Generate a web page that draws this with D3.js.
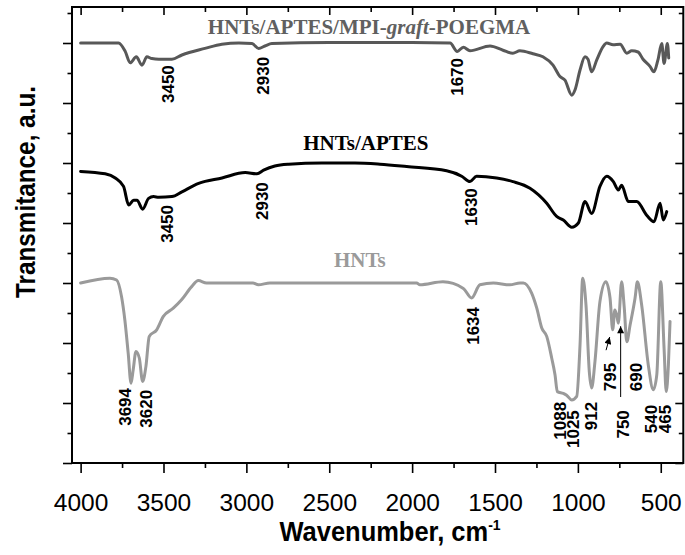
<!DOCTYPE html>
<meta charset="utf-8">
<script src="https://d3js.org/d3.v7.min.js"></script>
<style>
  body { margin: 0; background: #fff; }
</style>
<div id="my_dataviz"></div>
<script>

// spectra: [wavenumber, transmittance (a.u., offset)]
var hntsGraft = [
  [4000,7.00],[3771,7.00],[3731,6.86],[3701,6.67],[3664,6.77],[3630,6.63],[3600,6.77],
  [3570,6.74],[3528,6.73],[3449,6.73],[3389,6.80],[3250,6.91],[3148,6.98],[3045,7.00],
  [2966,6.99],[2926,6.91],[2888,6.95],[2846,6.99],[2500,7.01],[2000,7.01],[1771,7.00],
  [1728,6.86],[1691,6.93],[1651,6.87],[1530,6.95],[1452,6.88],[1392,6.83],[1350,6.87],
  [1271,6.82],[1211,6.77],[1150,6.63],[1108,6.44],[1078,6.38],[1037,6.13],[1017,6.22],
  [987,6.55],[957,6.77],[939,6.73],[917,6.52],[886,6.72],[848,6.94],[826,7.00],[788,6.97],
  [745,6.98],[705,6.83],[675,6.87],[637,6.85],[607,6.73],[565,6.61],[541,6.52],[517,6.72],
  [494,6.99],[480,6.66],[460,6.99],[452,6.75]
];

var hntsAptes = [
  [4000,4.86],[3852,4.82],[3791,4.75],[3741,4.61],[3710,4.30],[3680,4.38],[3660,4.38],
  [3626,4.23],[3590,4.41],[3560,4.44],[3529,4.43],[3449,4.44],[3389,4.52],[3288,4.66],
  [3147,4.75],[3007,4.84],[2936,4.82],[2896,4.88],[2828,4.95],[2745,4.98],[2544,5.00],
  [2345,5.00],[2194,4.98],[2033,4.94],[1792,4.87],[1701,4.78],[1651,4.69],[1611,4.78],
  [1490,4.75],[1392,4.69],[1289,4.58],[1188,4.33],[1128,4.11],[1088,4.05],[1037,3.93],
  [997,4.00],[957,4.36],[917,4.16],[867,4.61],[826,4.78],[786,4.69],[756,4.55],[736,4.63],
  [696,4.36],[645,4.36],[585,4.13],[541,4.02],[504,4.33],[485,4.05],[464,4.19]
];

var hnts = [
  [4000,3.00],[3823,3.08],[3783,3.05],[3753,2.77],[3733,2.38],[3713,1.83],[3696,1.33],
  [3683,1.55],[3666,1.86],[3646,1.75],[3626,1.36],[3606,1.61],[3586,2.11],[3541,2.22],
  [3502,2.44],[3441,2.58],[3391,2.72],[3330,2.94],[3290,3.04],[3240,3.00],[2960,3.00],
  [2928,2.97],[2858,3.00],[1973,3.00],[1953,2.97],[1814,3.02],[1691,2.91],[1641,2.75],
  [1591,2.97],[1510,3.00],[1410,2.97],[1349,3.00],[1329,3.00],[1279,2.83],[1248,2.58],
  [1218,2.25],[1188,2.11],[1158,1.75],[1138,1.47],[1124,1.19],[1088,1.16],[1068,1.13],
  [1037,1.05],[1007,1.11],[987,1.97],[971,3.08],[951,2.63],[931,1.52],[917,1.25],
  [897,1.69],[867,2.69],[831,3.02],[806,2.75],[790,2.22],[777,2.55],[766,2.47],[756,2.33],
  [736,3.02],[720,2.58],[705,2.02],[685,2.30],[655,2.75],[641,3.02],[615,2.63],[575,1.63],
  [545,1.22],[524,1.47],[500,3.02],[480,1.91],[467,1.19],[454,1.63],[444,2.36]
];

// peak labels: [text, wavenumber at label centre, transmittance at label top]
var graftPeaks = [["3450",3473,6.63],["2930",2900,6.77],["1670",1726,6.75]];
var aptesPeaks = [["3450",3476,4.30],["2930",2903,4.68],["1630",1645,4.58]];
var hntsPeaks = [
  ["3694",3733,1.25],["3620",3603,1.22],["1634",1633,2.60],["1088",1108,1.02],
  ["1025",1027,0.88],["912",921,1.02],["795",806,1.67],["750",725,0.88],
  ["690",649,1.67],["540",556,0.97],["465",475,0.97]
];

// arrows: [from wn, from T, to wn, to T]
var arrows = [[830,1.88,808,2.10],[742,1.10,742,2.28]];

var xMajor = [4000,3500,3000,2500,2000,1500,1000,500];
var xMinor = [3750,3250,2750,2250,1750,1250,750];
var yMajor = [0,1,2,3,4,5,6,7];
var yMinor = [0.5,1.5,2.5,3.5,4.5,5.5,6.5,7.5];

var margin = {top: 7, right: 1.7, bottom: 92, left: 72},
    width = 685 - margin.left - margin.right,
    height = 555 - margin.top - margin.bottom;

var svg = d3.select("#my_dataviz")
  .append("svg")
    .attr("width", 685)
    .attr("height", 555)
  .append("g")
    .attr("transform", "translate(" + margin.left + "," + margin.top + ")");

var x = d3.scaleLinear().domain([4052, 364]).range([0, width]);
var y = d3.scaleLinear().domain([0, 7.6]).range([height, 0]);

function tickAxis(axis, vals, size, tr) {
  var g = svg.append("g")
    .attr("transform", tr)
    .call(axis.tickValues(vals).tickSize(size).tickSizeOuter(0).tickFormat(""));
  g.select(".domain").remove();
  g.selectAll("line").attr("stroke", "#000").attr("stroke-width", 1.6);
  return g;
}

// bottom axis
var bx = tickAxis(d3.axisBottom(x), xMajor, 10, "translate(0," + height + ")");
bx.selectAll("text")
  .text(function(d) { return d; })
  .attr("y", 48).attr("dy", 0)
  .attr("font-family", "Liberation Sans, Arial, sans-serif")
  .attr("font-size", "24.5px")
  .attr("fill", "#000");
tickAxis(d3.axisBottom(x), xMinor, 5, "translate(0," + height + ")");
// top axis (inward)
tickAxis(d3.axisTop(x), xMajor, -8, "translate(0,0)");
tickAxis(d3.axisTop(x), xMinor, -5, "translate(0,0)");
// left axis
tickAxis(d3.axisLeft(y), yMajor, 9, "translate(0,0)");
tickAxis(d3.axisLeft(y), yMinor, 4.5, "translate(0,0)");
// right axis (inward)
tickAxis(d3.axisRight(y), yMajor, -8, "translate(" + width + ",0)");
tickAxis(d3.axisRight(y), yMinor, -4.5, "translate(" + width + ",0)");

// frame
svg.append("rect")
  .attr("x", 0).attr("y", 0)
  .attr("width", width).attr("height", height)
  .attr("fill", "none")
  .attr("stroke", "#000")
  .attr("stroke-width", 2);

// spectra
var line = d3.line()
  .x(function(d) { return x(d[0]); })
  .y(function(d) { return y(d[1]); })
  .curve(d3.curveMonotoneX);

var series = [
  {data: hntsGraft, color: "#585858"},
  {data: hntsAptes, color: "#000000"},
  {data: hnts, color: "#9a9a9a"}
];
series.forEach(function(s) {
  svg.append("path")
    .datum(s.data)
    .attr("fill", "none")
    .attr("stroke", s.color)
    .attr("stroke-width", 3)
    .attr("stroke-linejoin", "round")
    .attr("stroke-linecap", "round")
    .attr("d", line);
});

// peak labels
function peakLabels(list) {
  svg.selectAll(null)
    .data(list)
    .enter()
    .append("text")
      .attr("transform", function(d) { return "translate(" + x(d[1]) + "," + y(d[2]) + ")rotate(-90)"; })
      .attr("dy", "0.35em")
      .attr("text-anchor", "end")
      .attr("font-family", "Liberation Sans, Arial, sans-serif")
      .attr("font-weight", "bold")
      .attr("font-size", "17px")
      .text(function(d) { return d[0]; });
}
peakLabels(graftPeaks);
peakLabels(aptesPeaks);
peakLabels(hntsPeaks);

// arrows
svg.append("defs").append("marker")
  .attr("id", "head")
  .attr("viewBox", "0 0 10 10")
  .attr("refX", 10).attr("refY", 5)
  .attr("markerUnits", "userSpaceOnUse")
  .attr("markerWidth", 9).attr("markerHeight", 7)
  .attr("orient", "auto")
  .append("path")
    .attr("d", "M0,0L10,5L0,10Z")
    .attr("fill", "#000");

svg.selectAll(null)
  .data(arrows)
  .enter()
  .append("line")
    .attr("x1", function(d) { return x(d[0]); })
    .attr("y1", function(d) { return y(d[1]); })
    .attr("x2", function(d) { return x(d[2]); })
    .attr("y2", function(d) { return y(d[3]); })
    .attr("stroke", "#000")
    .attr("stroke-width", 1)
    .attr("marker-end", "url(#head)");

// curve names
var names = [
  {x: 2260, y: 7.15, color: "#606060"},
  {x: 2279, y: 5.22, color: "#000000"},
  {x: 2315, y: 3.27, color: "#9a9a9a"}
];
var nameText = svg.selectAll(null)
  .data(names)
  .enter()
  .append("text")
    .attr("x", function(d) { return x(d.x); })
    .attr("y", function(d) { return y(d.y); })
    .attr("text-anchor", "middle")
    .attr("font-family", "Liberation Serif, Times New Roman, serif")
    .attr("font-weight", "bold")
    .attr("font-size", "21px")
    .attr("fill", function(d) { return d.color; });

d3.select(nameText.nodes()[0]).call(function(t) {
  t.append("tspan").text("HNTs/APTES/MPI-");
  t.append("tspan").attr("font-style", "italic").text("graft");
  t.append("tspan").text("-POEGMA");
});
d3.select(nameText.nodes()[1]).text("HNTs/APTES");
d3.select(nameText.nodes()[2]).text("HNTs");

// axis titles
var xt = svg.append("text")
  .attr("transform", "translate(" + (390 - margin.left) + "," + (541 - margin.top) + ")scale(1,1.06)")
  .attr("text-anchor", "middle")
  .attr("font-family", "Liberation Sans, Arial, sans-serif")
  .attr("font-weight", "bold")
  .attr("font-size", "25.5px");
xt.append("tspan").text("Wavenumber, cm");
xt.append("tspan").attr("font-size", "14px").attr("dy", "-10").text("-1");

svg.append("text")
  .attr("transform", "translate(" + (35 - margin.left) + "," + (192 - margin.top) + ")rotate(-90)scale(0.9,1)")
  .attr("text-anchor", "middle")
  .attr("font-family", "Liberation Sans, Arial, sans-serif")
  .attr("font-weight", "bold")
  .attr("font-size", "27px")
  .text("Transmitance, a.u.");

</script>
